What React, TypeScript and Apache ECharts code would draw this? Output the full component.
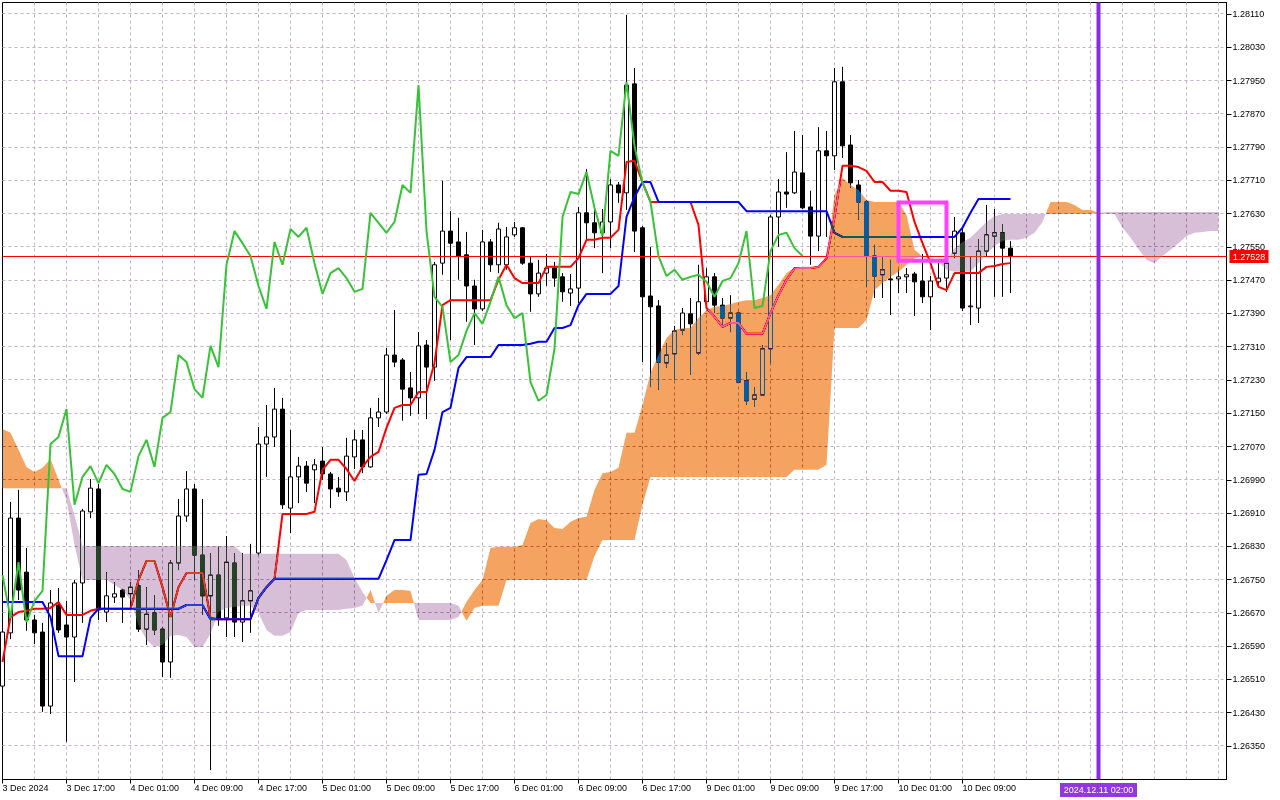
import React, { useEffect, useRef } from 'react';
import * as echarts from 'echarts';

// ---------- data ----------
const barSlots = Array.from({ length: 154 }, (_, i) => String(i));

const timeLabels = [
  '3 Dec 2024', '3 Dec 17:00', '4 Dec 01:00', '4 Dec 09:00', '4 Dec 17:00', '5 Dec 01:00',
  '5 Dec 09:00', '5 Dec 17:00', '6 Dec 01:00', '6 Dec 09:00', '6 Dec 17:00', '9 Dec 01:00',
  '9 Dec 09:00', '9 Dec 17:00', '10 Dec 01:00', '10 Dec 09:00',
];

const yTicks = [
  1.2635, 1.2643, 1.2651, 1.2659, 1.2667, 1.2675, 1.2683, 1.2691, 1.2699, 1.2707, 1.2715, 1.2723,
  1.2731, 1.2739, 1.2747, 1.2755, 1.2763, 1.2771, 1.2779, 1.2787, 1.2795, 1.2803, 1.2811,
];

const opens = [
  1.26494, 1.26622, 1.26898, 1.26768, 1.26653, 1.26624, 1.26446, 1.26689, 1.26641, 1.26612,
  1.26742, 1.26913, 1.26968, 1.26672, 1.26708, 1.26725, 1.26716, 1.26735, 1.26631, 1.26670,
  1.26631, 1.26552, 1.26790, 1.26903, 1.26968, 1.26809, 1.26711, 1.26761, 1.26658, 1.26790,
  1.26648, 1.26699, 1.26814, 1.27076, 1.27093, 1.27160, 1.26922, 1.26997, 1.27023, 1.27014,
  1.27035, 1.27004, 1.26970, 1.26961, 1.27045, 1.27086, 1.27021, 1.27139, 1.27153, 1.27290,
  1.27278, 1.27211, 1.27187, 1.27314, 1.27261, 1.27511, 1.27588, 1.27562, 1.27531, 1.27456,
  1.27401, 1.27562, 1.27507, 1.27507, 1.27579, 1.27596, 1.27511, 1.27437, 1.27487, 1.27499,
  1.27478, 1.27439, 1.27451, 1.27632, 1.27608, 1.27584, 1.27610, 1.27699, 1.27680, 1.27942,
  1.27596, 1.27432, 1.27408, 1.27271, 1.27293, 1.27350, 1.27389, 1.27295, 1.27418, 1.27478,
  1.27410, 1.27379, 1.27391, 1.27228, 1.27184, 1.27194, 1.27305, 1.27622, 1.27682, 1.27680,
  1.27728, 1.27646, 1.27576, 1.27781, 1.27769, 1.27947, 1.27795, 1.27699, 1.27658, 1.27528,
  1.27483, 1.27473, 1.27473, 1.27478, 1.27485, 1.27468, 1.27430, 1.27466, 1.27475, 1.27535,
  1.27584, 1.27406, 1.27403, 1.27540, 1.27576, 1.27584, 1.27547,
];

const closes = [
  1.26624, 1.26898, 1.26725, 1.26653, 1.26622, 1.26446, 1.26694, 1.26629, 1.26612, 1.26742,
  1.26915, 1.26970, 1.26677, 1.26711, 1.26716, 1.26708, 1.26732, 1.26631, 1.26667, 1.26629,
  1.26552, 1.26790, 1.26903, 1.26968, 1.26809, 1.26711, 1.26761, 1.26658, 1.26792, 1.26648,
  1.26699, 1.26723, 1.27076, 1.27093, 1.27160, 1.26930, 1.26997, 1.27023, 1.26982, 1.27026,
  1.27004, 1.26968, 1.26961, 1.27047, 1.27086, 1.27021, 1.27139, 1.27153, 1.27290, 1.27273,
  1.27208, 1.27187, 1.27312, 1.27261, 1.27507, 1.27588, 1.27559, 1.27528, 1.27456, 1.27401,
  1.27562, 1.27507, 1.27593, 1.27574, 1.27596, 1.27511, 1.27437, 1.27487, 1.27499, 1.27475,
  1.27442, 1.27449, 1.27632, 1.27608, 1.27584, 1.27610, 1.27699, 1.27680, 1.27939, 1.27588,
  1.27430, 1.27406, 1.27273, 1.27290, 1.27348, 1.27391, 1.27365, 1.27418, 1.27478, 1.27410,
  1.27379, 1.27391, 1.27225, 1.27180, 1.27194, 1.27305, 1.27622, 1.27682, 1.27677, 1.27730,
  1.27644, 1.27576, 1.27781, 1.27769, 1.27947, 1.27793, 1.27704, 1.27658, 1.27528, 1.27480,
  1.27495, 1.27471, 1.27478, 1.27483, 1.27466, 1.27430, 1.27468, 1.27475, 1.27511, 1.27588,
  1.27403, 1.27408, 1.27540, 1.27579, 1.27584, 1.27547, 1.27528,
];

const lows = [
  1.26485, 1.26607, 1.26701, 1.26627, 1.26595, 1.26432, 1.26427, 1.26622, 1.26360, 1.26504,
  1.26646, 1.26898, 1.26653, 1.26648, 1.26694, 1.26646, 1.26682, 1.26624, 1.26593, 1.26617,
  1.26516, 1.26514, 1.26773, 1.26889, 1.26749, 1.26665, 1.26292, 1.26639, 1.26612, 1.26612,
  1.26600, 1.26622, 1.26809, 1.26997, 1.27069, 1.26920, 1.26862, 1.26934, 1.26961, 1.26934,
  1.26990, 1.26922, 1.26949, 1.26939, 1.27016, 1.27006, 1.27019, 1.27117, 1.27148, 1.27261,
  1.27132, 1.27144, 1.27148, 1.27136, 1.27228, 1.27483, 1.27326, 1.27471, 1.27370, 1.27314,
  1.27396, 1.27490, 1.27487, 1.27495, 1.27574, 1.27507, 1.27394, 1.27430, 1.27456, 1.27454,
  1.27418, 1.27408, 1.27415, 1.27569, 1.27547, 1.27487, 1.27547, 1.27656, 1.27639, 1.27538,
  1.27273, 1.27213, 1.27206, 1.27259, 1.27230, 1.27338, 1.27242, 1.27290, 1.27406, 1.27391,
  1.27362, 1.27345, 1.27223, 1.27170, 1.27165, 1.27192, 1.27271, 1.27550, 1.27644, 1.27677,
  1.27641, 1.27507, 1.27540, 1.27574, 1.27735, 1.27764, 1.27692, 1.27615, 1.27454, 1.27427,
  1.27427, 1.27386, 1.27439, 1.27439, 1.27384, 1.27415, 1.27350, 1.27454, 1.27442, 1.27523,
  1.27396, 1.27362, 1.27367, 1.27526, 1.27430, 1.27430, 1.27439,
];

const highs = [
  1.26641, 1.26937, 1.26966, 1.26826, 1.26665, 1.26646, 1.26725, 1.26730, 1.26699, 1.26749,
  1.26920, 1.26992, 1.26980, 1.26768, 1.26744, 1.26728, 1.26744, 1.26773, 1.26732, 1.26713,
  1.26636, 1.26797, 1.26944, 1.27011, 1.26980, 1.26944, 1.26814, 1.26829, 1.26855, 1.26814,
  1.26814, 1.26836, 1.27117, 1.27170, 1.27211, 1.27187, 1.27110, 1.27045, 1.27035, 1.27040,
  1.27069, 1.27009, 1.26997, 1.27091, 1.27110, 1.27110, 1.27163, 1.27187, 1.27307, 1.27398,
  1.27283, 1.27249, 1.27345, 1.27326, 1.27514, 1.27709, 1.27636, 1.27620, 1.27586, 1.27471,
  1.27591, 1.27569, 1.27608, 1.27598, 1.27610, 1.27598, 1.27526, 1.27519, 1.27533, 1.27514,
  1.27487, 1.27485, 1.27646, 1.27737, 1.27639, 1.27641, 1.27713, 1.27706, 1.28108, 1.27980,
  1.27600, 1.27550, 1.27422, 1.27319, 1.27360, 1.27403, 1.27427, 1.27507, 1.27499, 1.27487,
  1.27427, 1.27434, 1.27394, 1.27249, 1.27213, 1.27314, 1.27627, 1.27713, 1.27778, 1.27829,
  1.27819, 1.27685, 1.27838, 1.27829, 1.27980, 1.27983, 1.27819, 1.27711, 1.27663, 1.27555,
  1.27526, 1.27519, 1.27495, 1.27499, 1.27490, 1.27533, 1.27480, 1.27511, 1.27523, 1.27622,
  1.27596, 1.27526, 1.27569, 1.27651, 1.27641, 1.27605, 1.27564,
];

const tenkan = [
  1.26552, 1.26660, 1.26672, 1.26675, 1.26680, 1.26680, 1.26682, 1.26696, 1.26665, 1.26665,
  1.26665, 1.26675, 1.26680, 1.26680, 1.26680, 1.26680, 1.26680, 1.26749, 1.26795, 1.26795,
  1.26732, 1.26660, 1.26732, 1.26766, 1.26766, 1.26766, 1.26658, 1.26655, 1.26655, 1.26655,
  1.26655, 1.26655, 1.26706, 1.26732, 1.26752, 1.26908, 1.26908, 1.26908, 1.26908, 1.26913,
  1.27014, 1.27038, 1.27038, 1.27016, 1.26987, 1.27021, 1.27045, 1.27057, 1.27115, 1.27163,
  1.27170, 1.27170, 1.27201, 1.27201, 1.27271, 1.27410, 1.27422, 1.27422, 1.27422, 1.27422,
  1.27422, 1.27422, 1.27471, 1.27507, 1.27475, 1.27463, 1.27463, 1.27463, 1.27502, 1.27502,
  1.27502, 1.27502, 1.27523, 1.27567, 1.27567, 1.27572, 1.27572, 1.27591, 1.27754, 1.27757,
  1.27706, 1.27658, 1.27658, 1.27658, 1.27658, 1.27658, 1.27658, 1.27603, 1.27403, 1.27382,
  1.27358, 1.27367, 1.27367, 1.27341, 1.27341, 1.27341, 1.27391, 1.27434, 1.27471, 1.27499,
  1.27499, 1.27499, 1.27502, 1.27523, 1.27622, 1.27745, 1.27745, 1.27742, 1.27733, 1.27706,
  1.27706, 1.27685, 1.27685, 1.27682, 1.27610, 1.27559, 1.27511, 1.27454, 1.27446, 1.27487,
  1.27487, 1.27487, 1.27487, 1.27502, 1.27504, 1.27509, 1.27511,
];

const kijun = [
  1.26696, 1.26696, 1.26696, 1.26696, 1.26696, 1.26696, 1.26660, 1.26566, 1.26566, 1.26566,
  1.26566, 1.26658, 1.26680, 1.26680, 1.26680, 1.26680, 1.26680, 1.26680, 1.26680, 1.26680,
  1.26680, 1.26680, 1.26680, 1.26689, 1.26689, 1.26689, 1.26655, 1.26655, 1.26655, 1.26655,
  1.26655, 1.26655, 1.26706, 1.26732, 1.26752, 1.26752, 1.26752, 1.26752, 1.26752, 1.26752,
  1.26752, 1.26752, 1.26752, 1.26752, 1.26752, 1.26752, 1.26752, 1.26752, 1.26797, 1.26845,
  1.26845, 1.26845, 1.27002, 1.27004, 1.27062, 1.27153, 1.27163, 1.27259, 1.27285, 1.27285,
  1.27285, 1.27285, 1.27314, 1.27314, 1.27314, 1.27314, 1.27317, 1.27322, 1.27322, 1.27355,
  1.27355, 1.27362, 1.27410, 1.27437, 1.27437, 1.27437, 1.27437, 1.27456, 1.27622, 1.27670,
  1.27706, 1.27706, 1.27658, 1.27658, 1.27658, 1.27658, 1.27658, 1.27658, 1.27658, 1.27658,
  1.27658, 1.27658, 1.27658, 1.27636, 1.27636, 1.27636, 1.27636, 1.27636, 1.27636, 1.27636,
  1.27636, 1.27636, 1.27636, 1.27636, 1.27584, 1.27574, 1.27574, 1.27574, 1.27574, 1.27574,
  1.27574, 1.27574, 1.27574, 1.27574, 1.27574, 1.27574, 1.27574, 1.27574, 1.27574, 1.27574,
  1.27596, 1.27632, 1.27665, 1.27665, 1.27665, 1.27665, 1.27665,
];

const spanA = [
  1.27112, 1.27103, 1.27062, 1.27021, 1.27009, 1.27019, 1.27040, 1.26990, 1.26942, 1.26833,
  1.26749, 1.26749, 1.26749, 1.26749, 1.26737, 1.26725, 1.26701, 1.26641, 1.26605, 1.26588,
  1.26593, 1.26615, 1.26617, 1.26612, 1.26588, 1.26588, 1.26619, 1.26672, 1.26682, 1.26684,
  1.26687, 1.26687, 1.26670, 1.26629, 1.26615, 1.26615, 1.26624, 1.26670, 1.26677, 1.26677,
  1.26677, 1.26677, 1.26677, 1.26680, 1.26682, 1.26687, 1.26725, 1.26670, 1.26711, 1.26725,
  1.26725, 1.26723, 1.26653, 1.26653, 1.26653, 1.26653, 1.26653, 1.26660, 1.26696, 1.26725,
  1.26749, 1.26826, 1.26829, 1.26829, 1.26829, 1.26833, 1.26886, 1.26896, 1.26893, 1.26874,
  1.26872, 1.26889, 1.26898, 1.26901, 1.26966, 1.27006, 1.27009, 1.27019, 1.27103, 1.27103,
  1.27170, 1.27247, 1.27290, 1.27331, 1.27350, 1.27355, 1.27355, 1.27379, 1.27398, 1.27406,
  1.27408, 1.27413, 1.27418, 1.27422, 1.27422, 1.27427, 1.27434, 1.27459, 1.27487, 1.27499,
  1.27502, 1.27502, 1.27504, 1.27523, 1.27675, 1.27716, 1.27699, 1.27687, 1.27663, 1.27658,
  1.27658, 1.27658, 1.27658, 1.27627, 1.27543, 1.27527, 1.27521, 1.27514, 1.27495, 1.27490,
  1.27490, 1.27490, 1.27511, 1.27533, 1.27552, 1.27564, 1.27567, 1.27567, 1.27572, 1.27584,
  1.27610, 1.27658, 1.27658, 1.27658, 1.27651, 1.27639, 1.27639, 1.27632, 1.27629, 1.27629,
  1.27596, 1.27572, 1.27545, 1.27519, 1.27511, 1.27528, 1.27543, 1.27559, 1.27576, 1.27584,
  1.27586, 1.27588, 1.27588,
];

const spanB = [
  1.26970, 1.26970, 1.26970, 1.26970, 1.26970, 1.26970, 1.26970, 1.26970, 1.26970, 1.26905,
  1.26831, 1.26831, 1.26831, 1.26831, 1.26831, 1.26831, 1.26831, 1.26831, 1.26831, 1.26831,
  1.26831, 1.26831, 1.26831, 1.26831, 1.26831, 1.26831, 1.26831, 1.26831, 1.26831, 1.26831,
  1.26812, 1.26812, 1.26812, 1.26812, 1.26812, 1.26812, 1.26812, 1.26812, 1.26812, 1.26812,
  1.26812, 1.26812, 1.26812, 1.26797, 1.26754, 1.26720, 1.26694, 1.26694, 1.26694, 1.26694,
  1.26694, 1.26694, 1.26694, 1.26694, 1.26694, 1.26694, 1.26694, 1.26687, 1.26651, 1.26682,
  1.26687, 1.26687, 1.26687, 1.26749, 1.26749, 1.26749, 1.26749, 1.26749, 1.26749, 1.26749,
  1.26749, 1.26749, 1.26749, 1.26749, 1.26807, 1.26845, 1.26845, 1.26845, 1.26845, 1.26845,
  1.26930, 1.26997, 1.26997, 1.26997, 1.26997, 1.26997, 1.26997, 1.26997, 1.26997, 1.26997,
  1.26997, 1.26997, 1.26997, 1.26997, 1.26997, 1.26997, 1.26997, 1.26997, 1.26997, 1.27014,
  1.27014, 1.27014, 1.27014, 1.27026, 1.27355, 1.27355, 1.27355, 1.27355, 1.27374, 1.27446,
  1.27463, 1.27478, 1.27490, 1.27507, 1.27523, 1.27527, 1.27523, 1.27519, 1.27519, 1.27547,
  1.27562, 1.27572, 1.27591, 1.27610, 1.27624, 1.27629, 1.27629, 1.27629, 1.27629, 1.27629,
  1.27629, 1.27629, 1.27629, 1.27629, 1.27629, 1.27629, 1.27629, 1.27632, 1.27634, 1.27634,
  1.27634, 1.27634, 1.27634, 1.27634, 1.27634, 1.27634, 1.27634, 1.27634, 1.27634, 1.27634,
  1.27634, 1.27634, 1.27634,
];

const chikouShift = 26;
const bidPrice = 1.27528;
const markerBar = 137;
const markerLabel = '2024.12.11 02:00';
const boxBars = [112, 118];
const boxPrices = [1.27657, 1.27517];

// ---------- styling ----------
const FONT_FAMILY = "'Liberation Sans', Arial, sans-serif";
const FONT = "9px 'Liberation Sans', Arial, sans-serif";
const GRID_COLOR = '#c2b4c6';
// The cloud layer is composited with "difference": on white these give
// SandyBrown (#f4a460) and Thistle (#d8bfd8); black candles turn blue, like MT5.
const ORANGE_DIFF = '#0b5b9f';
const THISTLE_DIFF = '#274027';
const Y_MAX = 1.2813765;
const Y_MIN = 1.2626945;

const GRID = {
  left: 2.5,
  top: 2.5,
  width: 1224,
  height: 777,
  containLabel: false,
  outerBoundsMode: 'none',
};

const crisp = (v: number) => Math.round(v - 0.5) + 0.5;

function renderCloud(_params: any, api: any) {
  const n = spanA.length;
  const xs: number[] = [];
  for (let k = 0; k < n; k++) xs.push(api.coord([k, spanA[k]])[0]);
  const yOf = (v: number) => api.coord([0, v])[1];
  type Seg = { x0: number; a0: number; b0: number; x1: number; a1: number; b1: number; s: number };
  const segs: Seg[] = [];
  for (let k = 0; k < n - 1; k++) {
    const a0 = yOf(spanA[k]);
    const b0 = yOf(spanB[k]);
    const a1 = yOf(spanA[k + 1]);
    const b1 = yOf(spanB[k + 1]);
    const d0 = spanA[k] - spanB[k];
    const d1 = spanA[k + 1] - spanB[k + 1];
    if (d0 * d1 < 0) {
      const t = d0 / (d0 - d1);
      const xm = xs[k] + (xs[k + 1] - xs[k]) * t;
      const ym = a0 + (a1 - a0) * t;
      segs.push({ x0: xs[k], a0, b0, x1: xm, a1: ym, b1: ym, s: Math.sign(d0) });
      segs.push({ x0: xm, a0: ym, b0: ym, x1: xs[k + 1], a1, b1, s: Math.sign(d1) });
    } else {
      const s = Math.sign(d0 + d1);
      if (s !== 0) segs.push({ x0: xs[k], a0, b0, x1: xs[k + 1], a1, b1, s });
    }
  }
  const children: any[] = [];
  let i = 0;
  while (i < segs.length) {
    const top: number[][] = [[segs[i].x0, segs[i].a0]];
    const bot: number[][] = [[segs[i].x0, segs[i].b0]];
    let j = i;
    while (
      j < segs.length &&
      segs[j].s === segs[i].s &&
      (j === i || Math.abs(segs[j].x0 - segs[j - 1].x1) < 0.01)
    ) {
      top.push([segs[j].x1, segs[j].a1]);
      bot.push([segs[j].x1, segs[j].b1]);
      j++;
    }
    children.push({
      type: 'polygon',
      shape: { points: top.concat(bot.reverse()) },
      style: { fill: segs[i].s > 0 ? ORANGE_DIFF : THISTLE_DIFF, stroke: 'none' },
    });
    i = j;
  }
  return { type: 'group', children };
}

function renderHGrid(_params: any, api: any) {
  const xl = api.coord([0, Y_MIN])[0];
  const xr = api.coord([barSlots.length - 1, Y_MIN])[0];
  return {
    type: 'group',
    children: yTicks.map((v) => {
      const y = crisp(api.coord([0, v])[1]);
      return {
        type: 'line',
        shape: { x1: xl, y1: y, x2: xr, y2: y },
        style: { stroke: GRID_COLOR, lineWidth: 1, lineDash: [3, 3] },
      };
    }),
  };
}

function renderBid(_params: any, api: any) {
  const xl = api.coord([0, bidPrice])[0];
  const xr = api.coord([barSlots.length - 1, bidPrice])[0];
  const y = crisp(api.coord([0, bidPrice])[1]);
  return {
    type: 'group',
    children: [
      {
        type: 'line',
        shape: { x1: xl, y1: y, x2: xr, y2: y },
        style: { stroke: '#ff0000', lineWidth: 1 },
      },
      {
        type: 'rect',
        shape: { x: xr + 3, y: y - 6.5, width: 39, height: 13 },
        style: { fill: '#ff0000' },
      },
      {
        type: 'text',
        style: {
          text: bidPrice.toFixed(5),
          x: xr + 3 + 19.5,
          y: y + 0.5,
          fill: '#ffffff',
          font: FONT,
          align: 'center',
          verticalAlign: 'middle',
          textAlign: 'center',
          textVerticalAlign: 'middle',
        },
      },
    ],
  };
}

function renderMarker(_params: any, api: any) {
  const pb = api.coord([markerBar, Y_MIN]);
  const pt = api.coord([markerBar, Y_MAX]);
  const x = pb[0];
  return {
    type: 'group',
    children: [
      {
        type: 'line',
        shape: { x1: x, y1: pt[1], x2: x, y2: pb[1] },
        style: { stroke: '#8a2be2', lineWidth: 4 },
      },
      {
        type: 'rect',
        shape: { x: x - 38.5, y: pb[1] + 3.5, width: 77, height: 14 },
        style: { fill: '#9436e3' },
      },
      {
        type: 'text',
        style: {
          text: markerLabel,
          x,
          y: pb[1] + 10.5,
          fill: '#ffffff',
          font: FONT,
          align: 'center',
          verticalAlign: 'middle',
          textAlign: 'center',
          textVerticalAlign: 'middle',
        },
      },
    ],
  };
}

function renderBox(_params: any, api: any) {
  const p1 = api.coord([boxBars[0], boxPrices[0]]);
  const p2 = api.coord([boxBars[1], boxPrices[1]]);
  return {
    type: 'rect',
    shape: { x: p1[0], y: p1[1], width: p2[0] - p1[0], height: p2[1] - p1[1] },
    style: { fill: 'none', stroke: '#ff40ff', lineWidth: 4 },
  };
}

function hiddenAxes() {
  return {
    xAxis: { type: 'category', data: barSlots, boundaryGap: false, show: false },
    yAxis: { type: 'value', position: 'right', min: Y_MIN, max: Y_MAX, scale: true, show: false },
  };
}

const labelAt = (i: number) => i % 8 === 0 && i / 8 < timeLabels.length;

function baseOption(): any {
  const candleData = opens.map((o, i) => [o, closes[i], lows[i], highs[i]]);
  return {
    animation: false,
    backgroundColor: '#ffffff',
    grid: { ...GRID, show: true, backgroundColor: '#ffffff', borderColor: '#000000', borderWidth: 1 },
    xAxis: {
      type: 'category',
      data: barSlots,
      boundaryGap: false,
      axisLine: { show: true, lineStyle: { color: '#000000', width: 1 } },
      axisTick: {
        show: true,
        interval: (i: number) => labelAt(i),
        length: 4,
        lineStyle: { color: '#000000' },
      },
      axisLabel: {
        show: true,
        interval: (i: number) => labelAt(i),
        formatter: (v: string) => {
          const i = Number(v);
          return labelAt(i) ? timeLabels[i / 8] : '';
        },
        align: 'left',
        margin: 4,
        color: '#000000',
        fontSize: 9,
        fontFamily: FONT_FAMILY,
      },
      splitLine: {
        show: true,
        interval: (i: number) => i % 4 === 0 && i > 0,
        lineStyle: { color: GRID_COLOR, type: [3, 3], width: 1 },
      },
    },
    yAxis: {
      type: 'value',
      position: 'right',
      min: Y_MIN,
      max: Y_MAX,
      scale: true,
      axisLine: { show: true, lineStyle: { color: '#000000' } },
      axisTick: { show: true, length: 5, customValues: yTicks, lineStyle: { color: '#000000' } },
      axisLabel: {
        show: true,
        customValues: yTicks,
        formatter: (v: number) => v.toFixed(5),
        color: '#000000',
        fontSize: 9,
        fontFamily: FONT_FAMILY,
        margin: 6,
      },
      splitLine: { show: false },
    },
    series: [
      {
        name: 'hgrid',
        type: 'custom',
        renderItem: renderHGrid,
        data: [[0, yTicks[0]]],
        z: 1,
        silent: true,
        clip: false,
      },
      {
        name: 'GBPUSD',
        type: 'candlestick',
        data: candleData,
        barWidth: 4,
        z: 2,
        silent: true,
        itemStyle: {
          color: '#ffffff',
          color0: '#000000',
          borderColor: '#000000',
          borderColor0: '#000000',
          borderColorDoji: '#000000',
          borderWidth: 1,
        },
      },
      {
        name: 'bid',
        type: 'custom',
        renderItem: renderBid,
        data: [[0, bidPrice]],
        z: 3,
        silent: true,
        clip: false,
      },
      {
        name: 'Tenkan-sen',
        type: 'line',
        data: tenkan,
        symbol: 'none',
        z: 3,
        silent: true,
        itemStyle: { color: '#ff0000' },
        lineStyle: { color: '#ff0000', width: 2 },
      },
      {
        name: 'Kijun-sen',
        type: 'line',
        data: kijun,
        symbol: 'none',
        z: 3,
        silent: true,
        itemStyle: { color: '#0000ff' },
        lineStyle: { color: '#0000ff', width: 2 },
      },
    ],
  };
}

function cloudOption(): any {
  return {
    animation: false,
    backgroundColor: 'transparent',
    grid: { ...GRID, show: false },
    ...hiddenAxes(),
    series: [
      {
        name: 'Kumo',
        type: 'custom',
        renderItem: renderCloud,
        data: [[0, spanA[0]]],
        silent: true,
        clip: true,
      },
    ],
  };
}

function topOption(): any {
  const chikou = barSlots.map((_, i) =>
    i + chikouShift < closes.length ? closes[i + chikouShift] : null
  );
  return {
    animation: false,
    backgroundColor: 'transparent',
    grid: { ...GRID, show: false },
    ...hiddenAxes(),
    series: [
      {
        name: 'Chikou Span',
        type: 'line',
        data: chikou,
        symbol: 'none',
        z: 2,
        silent: true,
        itemStyle: { color: '#38c238' },
        lineStyle: { color: '#38c238', width: 2 },
      },
      {
        name: 'box',
        type: 'custom',
        renderItem: renderBox,
        data: [[boxBars[0], boxPrices[0]]],
        z: 3,
        silent: true,
        clip: false,
      },
      {
        name: 'marker',
        type: 'custom',
        renderItem: renderMarker,
        data: [[markerBar, Y_MIN]],
        z: 4,
        silent: true,
        clip: false,
      },
    ],
  };
}

const layerStyle: React.CSSProperties = {
  position: 'fixed',
  left: 0,
  top: 0,
  width: 1280,
  height: 800,
};

export default function App() {
  const baseRef = useRef<HTMLDivElement>(null);
  const cloudRef = useRef<HTMLDivElement>(null);
  const topRef = useRef<HTMLDivElement>(null);

  useEffect(() => {
    if (!baseRef.current || !cloudRef.current || !topRef.current) return;
    const base = echarts.init(baseRef.current, null, { renderer: 'svg' });
    const cloud = echarts.init(cloudRef.current, null, { renderer: 'svg' });
    const top = echarts.init(topRef.current, null, { renderer: 'svg' });
    base.setOption(baseOption());
    cloud.setOption(cloudOption());
    top.setOption(topOption());
    return () => {
      base.dispose();
      cloud.dispose();
      top.dispose();
    };
  }, []);

  return (
    <>
      <div ref={baseRef} style={{ ...layerStyle, background: '#ffffff' }} />
      <div ref={cloudRef} style={{ ...layerStyle, mixBlendMode: 'difference', pointerEvents: 'none' }} />
      <div ref={topRef} style={{ ...layerStyle, pointerEvents: 'none' }} />
    </>
  );
}
